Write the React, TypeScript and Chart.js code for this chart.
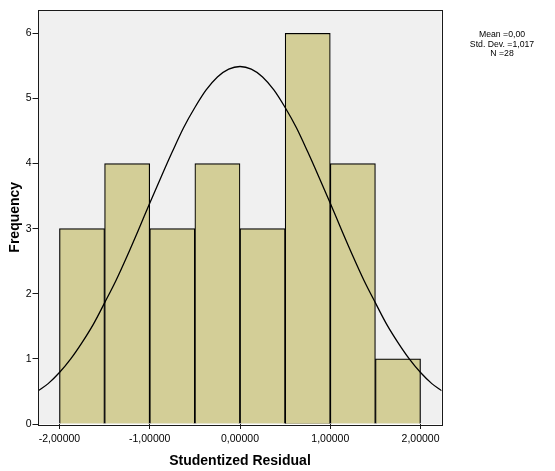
import React, { useEffect, useRef } from "react";
import { Chart, registerables } from "chart.js";

Chart.register(...registerables);

const binCenters = [-1.75, -1.25, -0.75, -0.25, 0.25, 0.75, 1.25, 1.75];
const frequencies = [3, 4, 3, 4, 3, 6, 4, 1];

const curveX = [
  -2.235, -2.125, -2.0, -1.875, -1.75, -1.625, -1.5, -1.375, -1.25, -1.125, -1.0, -0.875, -0.75, -0.625, -0.5,
  -0.375, -0.25, -0.125, 0, 0.125, 0.25, 0.375, 0.5, 0.625, 0.75, 0.875, 1.0, 1.125, 1.25, 1.375, 1.5, 1.625,
  1.75, 1.875, 2.0, 2.125, 2.235,
];
const curveY = [
  0.51, 0.62, 0.79, 1.0, 1.25, 1.53, 1.86, 2.2, 2.58, 2.98, 3.39, 3.79, 4.18, 4.55, 4.86, 5.13, 5.33, 5.45, 5.49,
  5.45, 5.33, 5.13, 4.86, 4.55, 4.18, 3.79, 3.39, 2.98, 2.58, 2.2, 1.86, 1.53, 1.25, 1.0, 0.79, 0.62, 0.51,
];

const xTicks = [-2, -1, 0, 1, 2];
const xTickLabels = ["-2,00000", "-1,00000", "0,00000", "1,00000", "2,00000"];
const yTicks = [0, 1, 2, 3, 4, 5, 6];

const statsLines = ["Mean =0,00", "Std. Dev. =1,017", "N =28"];
const xTitle = "Studentized Residual";
const yTitle = "Frequency";

const FONT = "'Liberation Sans', Arial, sans-serif";

export default function App() {
  const ref = useRef<HTMLCanvasElement>(null);

  useEffect(() => {
    const canvas = ref.current;
    if (!canvas) return;

    const framePlugin = {
      id: "frame",
      beforeDatasetsDraw(chart: any) {
        const { ctx, chartArea } = chart;
        ctx.save();
        ctx.fillStyle = "#f0f0f0";
        ctx.fillRect(chartArea.left, chartArea.top, chartArea.right - chartArea.left, chartArea.bottom - chartArea.top);
        ctx.restore();
      },
      afterDraw(chart: any) {
        const { ctx, chartArea } = chart;
        ctx.save();
        ctx.strokeStyle = "#1a1a1a";
        ctx.lineWidth = 1;
        ctx.strokeRect(
          Math.round(chartArea.left) - 0.5,
          Math.round(chartArea.top) - 0.5,
          Math.round(chartArea.right - chartArea.left) + 1,
          Math.round(chartArea.bottom - chartArea.top) + 1
        );
        ctx.fillStyle = "#000";
        ctx.font = `8.7px ${FONT}`;
        ctx.textAlign = "center";
        ctx.textBaseline = "middle";
        statsLines.forEach((t, i) => ctx.fillText(t, 502, 35 + i * 9.2));
        ctx.restore();
      },
    };

    const chart = new Chart(canvas, {
      type: "bar",
      data: {
        datasets: [
          {
            type: "line",
            data: curveX.map((x, i) => ({ x, y: curveY[i] })),
            borderColor: "#000",
            borderWidth: 1.3,
            pointRadius: 0,
            cubicInterpolationMode: "monotone",
            fill: false,
            order: 1,
          } as any,
          {
            type: "bar",
            data: binCenters.map((x, i) => ({ x, y: frequencies[i] })),
            backgroundColor: "#d3ce97",
            borderColor: "#000",
            borderWidth: 1.2,
            barPercentage: 1,
            categoryPercentage: 1,
            order: 2,
          } as any,
        ],
      },
      options: {
        responsive: false,
        animation: false,
        layout: { padding: { top: 10.5, right: 113.5, left: 0, bottom: 0 } },
        plugins: { legend: { display: false }, tooltip: { enabled: false } },
        scales: {
          x: {
            type: "linear",
            min: -2.232,
            max: 2.232,
            offset: false,
            afterBuildTicks: (s: any) => {
              s.ticks = xTicks.map((v) => ({ value: v }));
            },
            afterFit: (s: any) => {
              s.height = 47;
            },
            grid: { drawOnChartArea: false, drawTicks: true, tickLength: 5, color: "#1a1a1a", offset: false },
            border: { display: false },
            ticks: {
              color: "#000",
              font: { family: FONT, size: 10.5 },
              padding: 3.5,
              maxRotation: 0,
              callback: (v: any) => {
                const i = xTicks.indexOf(Number(v));
                return i >= 0 ? xTickLabels[i] : "";
              },
            },
            title: {
              display: true,
              text: xTitle,
              color: "#000",
              font: { family: FONT, size: 14, weight: "bold" },
              padding: { top: 0, bottom: 1 },
            },
          },
          y: {
            type: "linear",
            min: 0,
            max: 6.35,
            afterBuildTicks: (s: any) => {
              s.ticks = yTicks.map((v) => ({ value: v }));
            },
            afterFit: (s: any) => {
              s.width = 38.5;
            },
            grid: { drawOnChartArea: false, drawTicks: true, tickLength: 6, color: "#1a1a1a" },
            border: { display: false },
            ticks: {
              color: "#000",
              font: { family: FONT, size: 10.5 },
              padding: 1,
            },
            title: {
              display: true,
              text: yTitle,
              color: "#000",
              font: { family: FONT, size: 14, weight: "bold" },
              padding: { top: 7, bottom: 0 },
            },
          },
        },
      },
      plugins: [framePlugin],
    });

    return () => chart.destroy();
  }, []);

  return (
    <div style={{ position: "fixed", left: 0, top: 0, width: 555, height: 471, background: "#fff" }}>
      <canvas ref={ref} width={555} height={471} style={{ width: 555, height: 471, display: "block" }} />
    </div>
  );
}
